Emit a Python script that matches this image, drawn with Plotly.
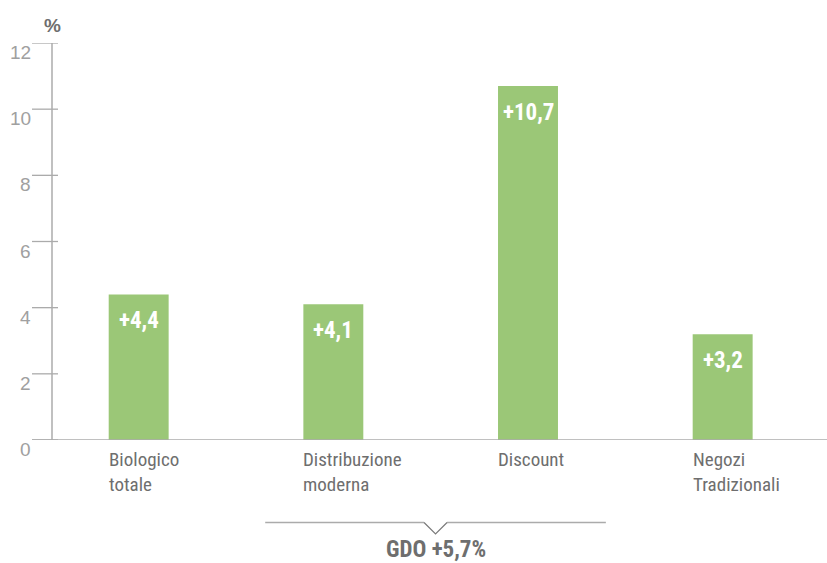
import plotly.graph_objects as go

categories = ["Biologico<br>totale", "Distribuzione<br>moderna", "Discount", "Negozi<br>Tradizionali"]
values = [4.4, 4.1, 10.7, 3.2]
value_labels = ["+4,4", "+4,1", "+10,7", "+3,2"]
y_ticks = [0, 2, 4, 6, 8, 10, 12]
group_label = "GDO +5,7%"

W, H = 827, 563
ML, MR, MT, MB = 32, 0, 43, 123
plot_w = W - ML - MR
plot_h = H - MT - MB
x_lo, x_hi = -0.548, 3.536

def xpaper(v):
    return (v - x_lo) / (x_hi - x_lo)

idx = list(range(len(categories)))
green = "#9BC777"
axis_col = "#ABABAB"
narrow = "Liberation Sans Narrow, Roboto Condensed, Arial Narrow, Roboto, sans-serif"

fig = go.Figure()
fig.add_trace(go.Bar(x=idx, y=values, width=0.308, marker=dict(color=green, line=dict(width=0)),
                     hoverinfo="skip"))

annotations = []
shapes = []
# value labels inside bars
for i, v, t in zip(idx, values, value_labels):
    annotations.append(dict(x=i, y=v, xref="x", yref="y", text="<b>%s</b>" % t, showarrow=False,
                            xanchor="center", yanchor="top", yshift=-11,
                            font=dict(family=narrow, size=23, color="white")))
# category labels
for i, c in zip(idx, categories):
    annotations.append(dict(x=i, y=0, xref="x", yref="y", text=c, showarrow=False,
                            xanchor="left", yanchor="top", xshift=-32, yshift=-6, align="left",
                            font=dict(family=narrow, size=19, color="#6E6E6E")))
# y tick labels and tick marks
tick_x1 = (58 - ML) / plot_w
for t in y_ticks:
    annotations.append(dict(x=0, y=t, xref="paper", yref="y", text=str(t), showarrow=False,
                            xanchor="right", yanchor="top", xshift=1, yshift=3,
                            font=dict(family="Liberation Sans, Arial, sans-serif", size=19, color="#A0A0A0")))
    shapes.append(dict(type="line", xref="paper", yref="y", x0=0, x1=tick_x1, y0=t, y1=t,
                       line=dict(color=axis_col, width=1.3)))
# y axis line
yax_x = (52 - ML) / plot_w
shapes.append(dict(type="line", xref="paper", yref="y", x0=yax_x, x1=yax_x, y0=0, y1=max(y_ticks),
                   line=dict(color=axis_col, width=1.5)))
# x axis line
shapes.append(dict(type="line", xref="paper", yref="y", x0=0, x1=1, y0=0, y1=0,
                   line=dict(color=axis_col, width=1.5)))
# % unit
annotations.append(dict(x=yax_x, y=1, xref="paper", yref="paper", text="<b>%</b>", showarrow=False,
                        xanchor="center", yanchor="bottom", yshift=5,
                        font=dict(family="Liberation Sans, Arial, sans-serif", size=19, color="#6E6E6E")))
# GDO bracket
bx0 = xpaper(1 - 0.35)
bx1 = xpaper(2 + 0.40)
bmid = (bx0 + bx1) / 2
by = -(522.5 - (H - MB)) / plot_h
ny = -(534 - (H - MB)) / plot_h
nw = 11.5 / plot_w
shapes.append(dict(type="line", xref="paper", yref="paper", x0=bx0, x1=bmid - nw, y0=by, y1=by,
                   line=dict(color=axis_col, width=1.5)))
shapes.append(dict(type="line", xref="paper", yref="paper", x0=bmid + nw, x1=bx1, y0=by, y1=by,
                   line=dict(color=axis_col, width=1.5)))
shapes.append(dict(type="path", xref="paper", yref="paper",
                   path="M %f,%f L %f,%f L %f,%f" % (bmid - nw, by, bmid, ny, bmid + nw, by),
                   line=dict(color="#7A7A7A", width=1.2)))
annotations.append(dict(x=bmid, y=ny, xref="paper", yref="paper", text="<b>%s</b>" % group_label,
                        showarrow=False, xanchor="center", yanchor="top", yshift=0,
                        font=dict(family=narrow, size=23, color="#6E6E6E")))

fig.update_layout(
    width=W, height=H,
    margin=dict(l=ML, r=MR, t=MT, b=MB, pad=0),
    paper_bgcolor="white", plot_bgcolor="white",
    showlegend=False,
    xaxis=dict(range=[x_lo, x_hi], showticklabels=False, showgrid=False, zeroline=False,
               showline=False, ticks=""),
    yaxis=dict(range=[0, 12], showticklabels=False, showgrid=False, zeroline=False,
               showline=False, ticks=""),
    annotations=annotations, shapes=shapes,
)
fig.write_html("out.html", config={"displayModeBar": False},
               post_script="document.body.style.margin='0';document.body.style.overflow='hidden';")
